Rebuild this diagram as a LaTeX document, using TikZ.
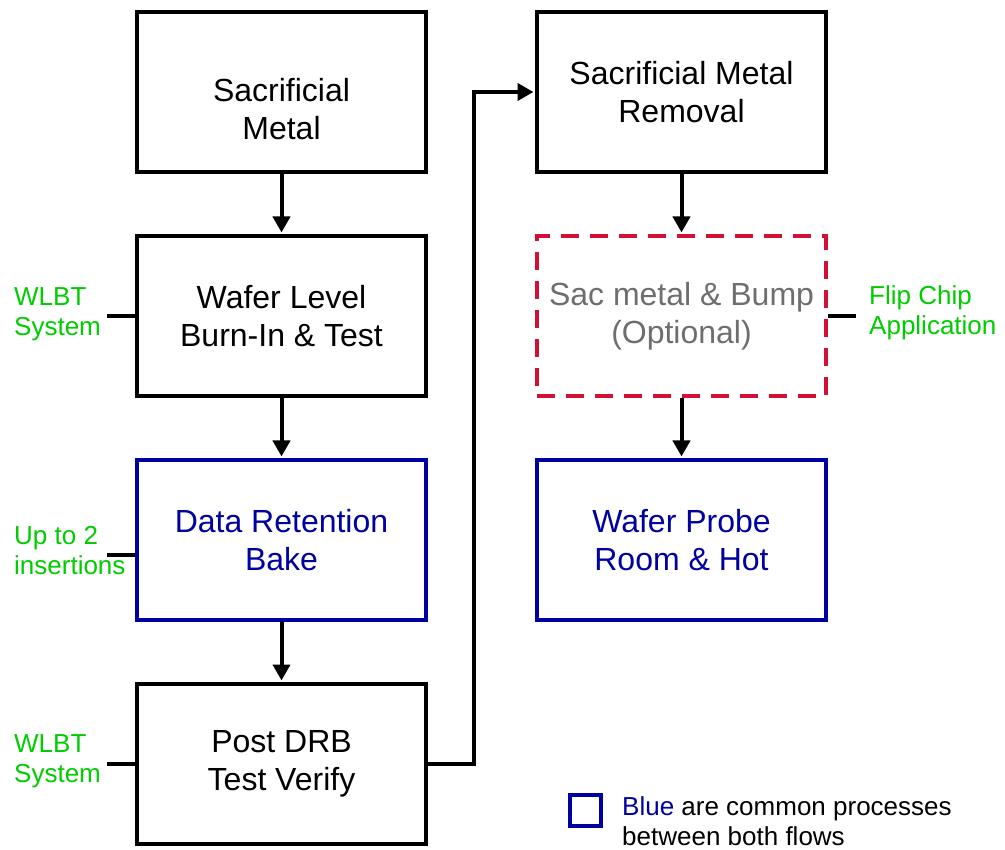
\documentclass[tikz,border=0pt]{standalone}
\usepackage{fontspec}
\setmainfont{Liberation Sans}
\usetikzlibrary{arrows.meta}
\definecolor{procblue}{RGB}{0,0,160}
\definecolor{notegreen}{RGB}{0,204,0}
\definecolor{optred}{RGB}{210,16,52}
\definecolor{optgray}{RGB}{110,110,110}
\tikzset{
 box/.style={draw=black, line width=4pt, minimum width=289pt, minimum height=160pt, align=center, font=\fontsize{32}{38}\selectfont, inner sep=0pt},
 common/.style={box, draw=procblue, text=procblue},
 optional/.style={box, draw=optred, text=optgray, dash pattern=on 18pt off 11pt},
 boxtext/.style={align=center, font=\fontsize{32}{38}\selectfont, inner sep=0pt},
 note/.style={text=notegreen, align=left, font=\fontsize{26}{30}\selectfont, inner sep=0pt, anchor=west},
 flow/.style={line width=4pt, shorten >=1.5pt, -{Triangle[length=16pt,width=17pt]}},
 tick/.style={line width=4pt},
}
\begin{document}
\begin{tikzpicture}[x=1pt,y=-1pt]
\useasboundingbox (0,0) rectangle (1005,850);
% left column
\node[box] (s1) at (281.5,92) {};
\node[boxtext] (s1t) at (281.5,109) {Sacrificial\\Metal};
\node[box] (s2) at (281.5,316) {Wafer Level\\Burn-In \& Test};
\node[common] (s3) at (281.5,540) {Data Retention\\Bake};
\node[box] (s4) at (281.5,764) {Post DRB\\Test Verify};
% right column
\node[box] (s5) at (681.5,92) {Sacrificial Metal\\Removal};
\node[optional] (s6) at (681.5,316) {Sac metal \& Bump\\(Optional)};
\node[common] (s7) at (681.5,540) {Wafer Probe\\Room \& Hot};
% flow arrows
\draw[flow] (s1) -- (s2);
\draw[flow] (s2) -- (s3);
\draw[flow] (s3) -- (s4);
\draw[flow] (s4.east) -- ++(46,0) |- (s5.west);
\draw[flow] (s5) -- (s6);
\draw[flow] (s6.south) -- (s7.north);
% side notes
\coordinate (c2) at (107,316);
\coordinate (c3) at (107,555);
\coordinate (c4) at (107,764);
\coordinate (c6) at (856,316);
\draw[tick] (c2) -- (c2 -| s2.west);
\draw[tick] (c3) -- (c3 -| s3.west);
\draw[tick] (c4) -- (c4 -| s4.west);
\draw[tick] (c6) -- (c6 -| s6.east);
\node[note] (n2) at (14,314) {WLBT\\System};
\node[note] (n3) at (14,551) {Up to 2\\insertions};
\node[note] (n4) at (14,761) {WLBT\\System};
\node[note] (n6) at (869,313) {Flip Chip\\Application};
% legend
\node[draw=procblue, line width=4pt, minimum size=31pt, inner sep=0pt] (leg) at (585.5,810.5) {};
\node[anchor=west, align=left, font=\fontsize{26}{30}\selectfont, inner sep=0pt] (legt) at (622,821) {\textcolor{procblue}{Blue} are common processes\\between both flows};
\end{tikzpicture}
\end{document}
